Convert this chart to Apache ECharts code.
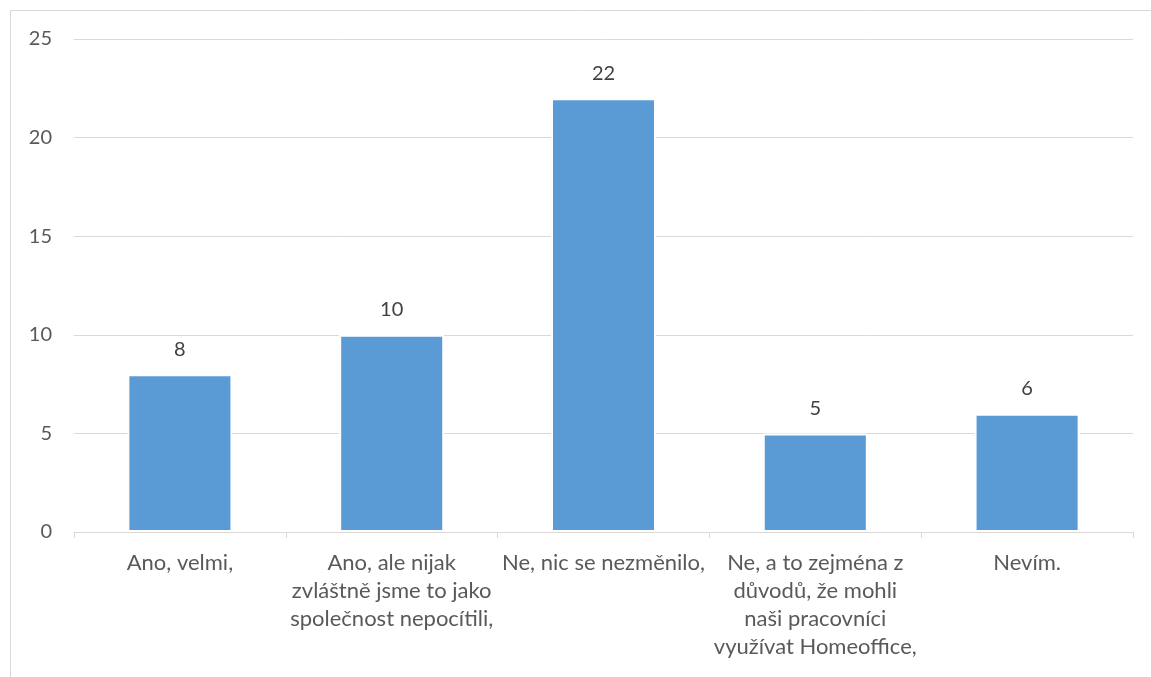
<!DOCTYPE html>
<html>
<head>
<meta charset="utf-8">
<script src="https://cdn.jsdelivr.net/npm/echarts@6/dist/echarts.min.js"></script>
<style>
  html, body { margin: 0; padding: 0; background: #fff; }
  #chart { width: 1151px; height: 677px; }
</style>
</head>
<body>
<div id="chart"></div>
<script>
// Survey answers and their counts
const categories = [
  'Ano, velmi,',
  'Ano, ale nijak\nzvláštně jsme to jako\nspolečnost nepocítili,',
  'Ne, nic se nezměnilo,',
  'Ne, a to zejména z\ndůvodů, že mohli\nnaši pracovníci\nvyužívat Homeoffice,',
  'Nevím.'
];
const counts = [8, 10, 22, 5, 6];
const yTicks = { min: 0, max: 25, interval: 5 };

const FONT = 'Lato, "Open Sans", sans-serif';
const chart = echarts.init(document.getElementById('chart'), null, { renderer: 'canvas' });

chart.setOption({
  animation: false,
  backgroundColor: '#ffffff',
  graphic: [{
    type: 'rect',
    shape: { x: 10.5, y: 10.5, width: 1200, height: 700 },
    style: { fill: 'none', stroke: '#d9d9d9', lineWidth: 1 },
    silent: true
  }],
  grid: { left: 74, right: 18, top: 39, bottom: 145, containLabel: false },
  xAxis: {
    type: 'category',
    data: categories,
    axisLine: { lineStyle: { color: '#d9d9d9', width: 1 } },
    axisTick: { show: true, alignWithLabel: false, length: 6, lineStyle: { color: '#d9d9d9' } },
    axisLabel: {
      interval: 0,
      color: '#595959',
      fontFamily: FONT,
      fontSize: 22,
      lineHeight: 28,
      margin: 17
    }
  },
  yAxis: {
    type: 'value',
    min: yTicks.min,
    max: yTicks.max,
    interval: yTicks.interval,
    axisLine: { show: false },
    axisTick: { show: false },
    splitLine: { lineStyle: { color: '#d9d9d9', width: 1 } },
    axisLabel: {
      color: '#595959',
      fontFamily: FONT,
      fontSize: 20,
      margin: 22
    }
  },
  series: [{
    type: 'bar',
    data: counts,
    barWidth: '49.6%',
    itemStyle: { color: '#5b9bd5', borderColor: '#ffffff', borderWidth: 2 },
    label: {
      show: true,
      position: 'top',
      distance: 15,
      color: '#404040',
      fontFamily: FONT,
      fontSize: 20
    }
  }]
});
</script>
</body>
</html>
